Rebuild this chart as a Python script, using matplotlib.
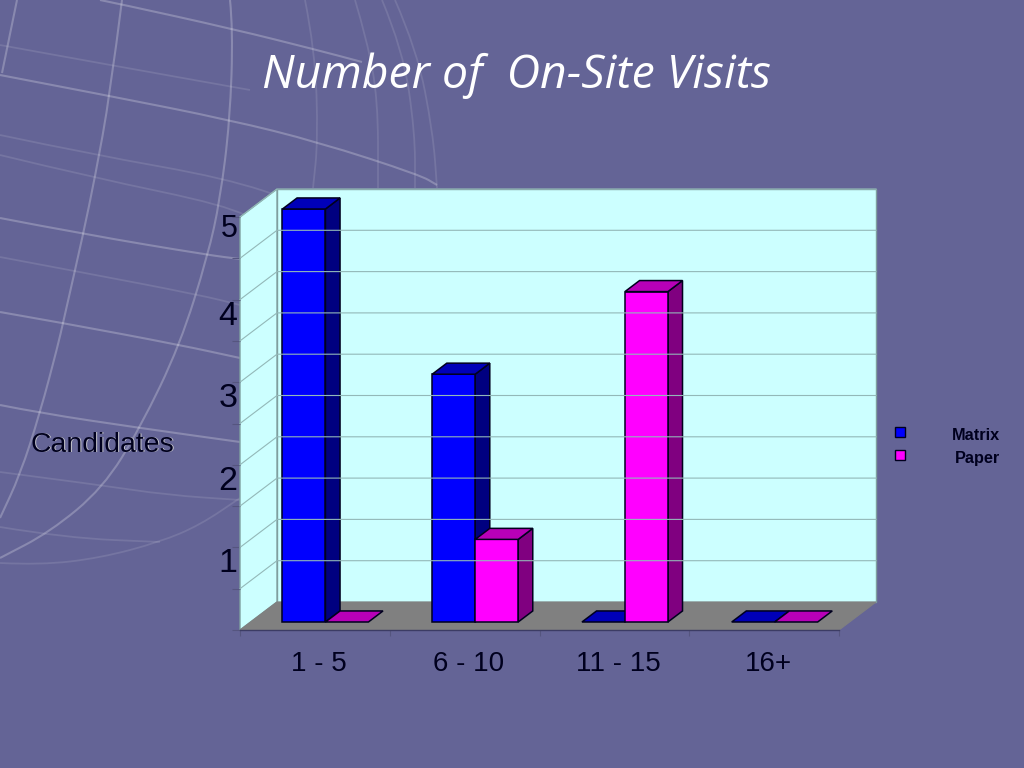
import matplotlib
matplotlib.use('Agg')
import matplotlib.pyplot as plt
from matplotlib.patches import Polygon, Rectangle, PathPatch
from matplotlib.path import Path

# chart data
categories = ['1 - 5', '6 - 10', '11 - 15', '16+']
matrix = [5, 3, 0, 0]
paper = [0, 1, 4, 0]
series_names = ['Matrix', 'Paper']
value_labels = [1, 2, 3, 4, 5]
grid_values = [0.5, 1, 1.5, 2, 2.5, 3, 3.5, 4, 4.5, 5]

BG = '#646496'
WALL = '#ccffff'
GRID = '#93b8b8'
DARK = '#00001e'

W, H = 1024, 768
X_LEFT, X_RIGHT = 240, 839
Y_BASE, Y_TOP = 630, 217
DEPTH_X = 37 / 149.75       # category units per full depth
DEPTH_Y = 28 / 82.6         # value units per full depth
BAR_W = 0.287
D0, D1 = 0.286, 0.68

# faint globe in the slide background, pixel coords
globe_strong = [
    [(100, 0), (120, 4), (233, 29), (317, 50), (362, 62)],
    [(0, 75), (110, 96), (230, 120), (318, 142), (420, 175), (437, 185)],
    [(0, 218), (83, 234), (208, 255), (240, 259)],
    [(0, 312), (63, 323), (180, 345), (240, 358)],
    [(0, 405), (40, 413), (140, 428), (240, 442)],
    [(122, 0), (110, 95), (95, 177), (83, 235), (63, 323), (58, 345), (40, 413), (20, 475), (0, 518)],
    [(230, 0), (233, 29), (230, 120), (220, 200), (208, 255), (180, 345), (140, 428), (103, 488), (50, 532), (0, 558)],
    [(17, 0), (2, 73)],
]
globe_faint = [
    [(0, 45), (110, 65), (250, 90)],
    [(0, 135), (95, 155), (225, 178), (300, 203)],
    [(0, 155), (95, 178), (225, 205), (265, 225)],
    [(0, 257), (80, 272), (200, 295), (240, 305)],
    [(0, 472), (100, 485), (167, 495), (240, 500)],
    [(0, 527), (67, 538), (160, 542)],
    [(0, 563), (40, 565), (100, 558), (160, 542), (200, 525), (240, 498)],
    [(305, 0), (315, 50), (318, 140), (313, 188)],
    [(355, 0), (367, 40), (378, 100), (378, 188)],
    [(382, 0), (403, 50), (415, 133), (415, 188)],
    [(395, 0), (417, 50), (433, 133), (437, 188)],
]


def curve(pts):
    # quadratic curve through the midpoints, the globe lines are round
    verts = [pts[0]]
    codes = [Path.MOVETO]
    for a, b in zip(pts[1:-1], pts[2:]):
        verts += [a, ((a[0] + b[0]) / 2, (a[1] + b[1]) / 2)]
        codes += [Path.CURVE3, Path.CURVE3]
    verts.append(pts[-1])
    codes.append(Path.LINETO)
    return Path(verts, codes)


fig = plt.figure(figsize=(W / 100, H / 100), dpi=100, facecolor=BG)
plt.rcParams['font.family'] = ['Liberation Sans', 'DejaVu Sans']

# full size axes in pixels for the background and the loose texts
bg = fig.add_axes([0, 0, 1, 1])
bg.set_xlim(0, W)
bg.set_ylim(H, 0)
bg.axis('off')
for pts in globe_strong:
    bg.add_patch(PathPatch(curve(pts), fc='none', ec='white', alpha=0.24, lw=1.5))
for pts in globe_faint:
    bg.add_patch(PathPatch(curve(pts), fc='none', ec='white', alpha=0.11, lw=1.3))

bg.text(516, 88, 'Number of  On-Site Visits', color='white', fontsize=33.4,
        family='Open Sans', style='italic', ha='center', va='baseline')

# Candidates, with its small light shadow
bg.text(103, 452.5, 'Candidates', color='#c8c8d0', fontsize=20.4, ha='center', va='baseline')
bg.text(102, 451.5, 'Candidates', color=DARK, fontsize=20.4, ha='center', va='baseline')

# legend
for y, base, name, col in zip([432, 455], [440, 463], series_names, ['#0000ff', '#ff00ff']):
    bg.add_patch(Rectangle((894.5, y - 5), 10, 10, fc=col, ec=DARK, lw=1))
    bg.text(1000, base, name, color=DARK, fontsize=11.7, fontweight='bold', ha='right', va='baseline')

# chart axes, the front plane of the 3d box
ax = fig.add_axes([X_LEFT / W, 1 - Y_BASE / H, (X_RIGHT - X_LEFT) / W, (Y_BASE - Y_TOP) / H])
ax.patch.set_alpha(0)
ax.set_xlim(0, len(categories))
ax.set_ylim(0, 5)


def proj(x, v, d):
    return x + d * DEPTH_X, v + d * DEPTH_Y


def poly(points, **kw):
    kw.setdefault('clip_on', False)
    ax.add_patch(Polygon(points, closed=True, **kw))


n = len(categories)
# walls and floor
poly([proj(0, 0, 1), proj(n, 0, 1), proj(n, 5, 1), proj(0, 5, 1)], fc=WALL, ec='#7f9f9f', lw=1)
poly([proj(0, 0, 0), proj(0, 0, 1), proj(0, 5, 1), proj(0, 5, 0)], fc=WALL, ec='#7f9f9f', lw=1)
poly([proj(0, 0, 0), proj(n, 0, 0), proj(n, 0, 1), proj(0, 0, 1)], fc='#808080', ec='#808080', lw=0.8)

for g in grid_values:
    ax.plot(*zip(proj(0, g, 0), proj(0, g, 1), proj(n, g, 1)), color=GRID, lw=0.8, clip_on=False)


def bar3d(x, v, front, side, top):
    x2 = x + BAR_W
    if v > 0:
        poly([proj(x2, 0, D0), proj(x2, 0, D1), proj(x2, v, D1), proj(x2, v, D0)],
             fc=side, ec=DARK, lw=1.1)
        poly([proj(x, 0, D0), proj(x2, 0, D0), proj(x2, v, D0), proj(x, v, D0)],
             fc=front, ec=DARK, lw=1.1)
    poly([proj(x, v, D0), proj(x2, v, D0), proj(x2, v, D1), proj(x, v, D1)],
         fc=top, ec=DARK, lw=1.1)


for i in range(n):
    bar3d(i + 0.5 - BAR_W, matrix[i], '#0000ff', '#000080', '#0000b8')
    bar3d(i + 0.5, paper[i], '#ff00ff', '#800080', '#b800b8')

# axis
for s in ['top', 'right', 'left']:
    ax.spines[s].set_visible(False)
ax.spines['bottom'].set_color('#3c3c64')
ax.spines['bottom'].set_linewidth(1)
ax.set_xticks(range(n + 1))
ax.set_xticklabels([])
ax.set_yticks([0] + grid_values)
ax.set_yticklabels([])
ax.tick_params(axis='x', length=4.5, width=0.8, color='#55557f')
ax.tick_params(axis='y', length=5.5, width=0.8, color='#55557f')

for i, c in enumerate(categories):
    ax.annotate(c, (i + 0.5, 0), xytext=(3, -29.5), textcoords='offset points',
                ha='center', va='baseline', fontsize=20, color=DARK)
for v in value_labels:
    big = v < 5
    ax.annotate(str(v), (0, v), xytext=(-2, -18 if big else -14.4), textcoords='offset points',
                ha='right', va='baseline', fontsize=24.5 if big else 22, color=DARK)

fig.savefig('out.png', dpi=100, facecolor=BG)
